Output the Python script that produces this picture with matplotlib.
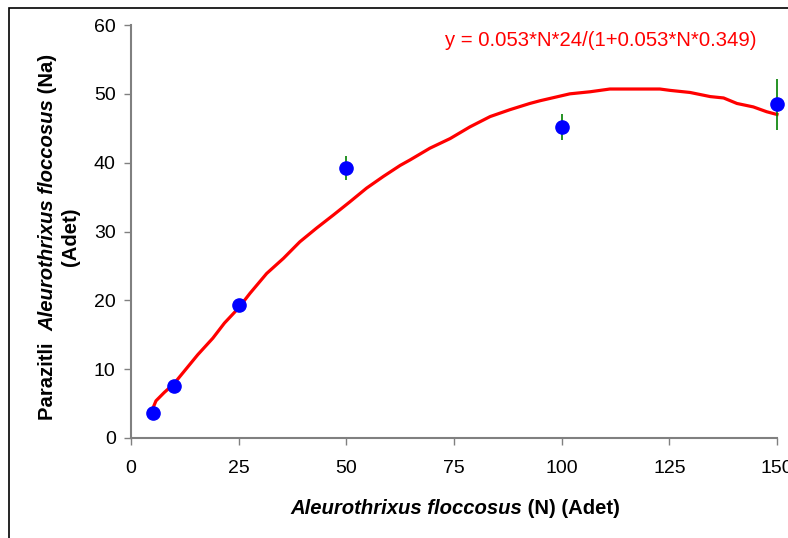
import matplotlib
matplotlib.use("Agg")
import matplotlib.pyplot as plt
from matplotlib.patches import Rectangle

plt.rcParams["font.family"] = ["Liberation Sans", "DejaVu Sans"]

# observed points
n_obs = [5, 10, 25, 50, 100, 150]
na_obs = [3.7, 7.6, 19.3, 39.2, 45.2, 48.5]
na_err = [0.4, 0.5, 0.6, 1.7, 1.9, 3.7]

# fitted curve as drawn
n_fit = [5, 5.8, 7.7, 10, 15.5, 19, 21.7, 25, 27.6, 31.5, 35.4, 39.2, 43.1, 47.0,
         50.8, 54.7, 58.6, 62.5, 64.8, 69.4, 74.1, 78.7, 83.4, 88.0, 92.6, 95.0,
         101.9, 106.6, 111.2, 122.8, 125.2, 129.8, 134.5, 137.6, 140.7, 144.5,
         147.6, 150]
na_fit = [4.2, 5.4, 6.6, 7.9, 12.1, 14.5, 16.7, 18.9, 21.0, 23.9, 26.1, 28.5, 30.5,
          32.4, 34.3, 36.3, 38.0, 39.6, 40.4, 42.1, 43.5, 45.2, 46.7, 47.7, 48.6,
          49.0, 50.0, 50.3, 50.7, 50.7, 50.5, 50.2, 49.6, 49.4, 48.6, 48.1, 47.4,
          47.0]

xticks = [0, 25, 50, 75, 100, 125, 150]
yticks = [0, 10, 20, 30, 40, 50, 60]
equation = "y = 0.053*N*24/(1+0.053*N*0.349)"

W, H = 788, 538
LABEL_SIZE = 14.6
fig = plt.figure(figsize=(W / 100, H / 100), dpi=100)
ax = fig.add_axes([131 / W, 1 - 438 / H, 646 / W, 413 / H])

ax.plot(n_fit, na_fit, color="red", lw=2.3, zorder=2, clip_on=False)
ax.errorbar(n_obs, na_obs, yerr=na_err, fmt="o", color="blue", ms=9.5,
            ecolor="green", elinewidth=1.2, capsize=0, zorder=3, clip_on=False)

ax.set_xlim(0, 150)
ax.set_ylim(0, 60)
ax.set_xticks(xticks)
ax.set_yticks(yticks)
for s in ["top", "right"]:
    ax.spines[s].set_visible(False)
for s in ["left", "bottom"]:
    ax.spines[s].set_color("#808080")
    ax.spines[s].set_linewidth(1.5)
ax.tick_params(axis="x", direction="out", length=5, width=1, color="#808080",
               labelsize=14, pad=11)
ax.tick_params(axis="y", direction="out", length=5, width=1, color="#808080",
               labelsize=14, pad=6)

fig.text(445 / W, 1 - 46 / H, equation, color="red", fontsize=14.6,
         ha="left", va="baseline")

renderer = fig.canvas.get_renderer()


def piece_width(s, style):
    t = fig.text(0, 0, "|" + s + "|", fontsize=LABEL_SIZE, fontweight="bold", style=style)
    t2 = fig.text(0, 0, "||", fontsize=LABEL_SIZE, fontweight="bold", style=style)
    w = t.get_window_extent(renderer).width - t2.get_window_extent(renderer).width
    t.remove()
    t2.remove()
    return w


def mixed_text(pieces, cx, cy, rotation=0):
    widths = [piece_width(s, st) for s, st in pieces]
    total = sum(widths)
    pos = -total / 2
    for (s, st), w in zip(pieces, widths):
        if rotation == 0:
            x, y = cx + pos, cy
        else:
            x, y = cx, cy + pos
        fig.text(x / W, y / H, s, fontsize=LABEL_SIZE, fontweight="bold", style=st,
                 rotation=rotation, rotation_mode="anchor",
                 ha="left", va="baseline")
        pos += w


mixed_text([("Aleurothrixus floccosus", "italic"), (" (N) (Adet)", "normal")],
           455, H - 514)
mixed_text([("Parazitli  ", "normal"), ("Aleurothrixus floccosus", "italic"),
            (" (Na)", "normal")], 53, H - 237, rotation=90)
mixed_text([("(Adet)", "normal")], 76, H - 237, rotation=90)

fig.patches.append(Rectangle((8.5 / W, -0.1), 1.2, 1 - 7.5 / H + 0.1,
                             transform=fig.transFigure, fill=False,
                             edgecolor="black", lw=1.2))

fig.savefig("out.png", dpi=100)
